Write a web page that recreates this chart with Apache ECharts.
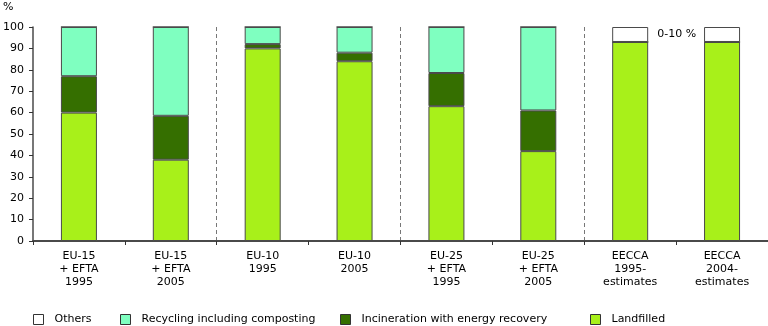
<!DOCTYPE html>
<html>
<head>
<meta charset="utf-8">
<script src="https://cdn.jsdelivr.net/npm/echarts@6/dist/echarts.min.js"></script>
<style>
  html, body { margin: 0; padding: 0; background: #fff; }
  #chart { width: 768px; height: 326px; }
</style>
</head>
<body>
<div id="chart"></div>
<script>
// Municipal waste treatment shares (%) by region and year
const categories = [
  'EU-15\n+ EFTA\n1995', 'EU-15\n+ EFTA\n2005',
  'EU-10\n1995', 'EU-10\n2005',
  'EU-25\n+ EFTA\n1995', 'EU-25\n+ EFTA\n2005',
  'EECCA\n1995-\nestimates', 'EECCA\n2004-\nestimates'
];
const landfilled   = [60, 38, 90, 84, 63, 42, 93, 93];
const incineration = [17, 20.5, 2, 4, 15.5, 19, 0, 0];
const recycling    = [23, 41.5, 8, 12, 21.5, 39, 0, 0];
const others       = [0, 0, 0, 0, 0, 0, 7, 7];
const othersNote   = ['', '', '', '', '', '', '0-10 %', ''];
const yTicks = [0, 10, 20, 30, 40, 50, 60, 70, 80, 90, 100];

const FONT = 'DejaVu Sans, Verdana, sans-serif';
const colors = {
  others: '#ffffff',
  recycling: '#7fffc0',
  incineration: '#356f00',
  landfilled: '#a8f01a'
};

const chart = echarts.init(document.getElementById('chart'), null, { renderer: 'canvas' });

function barSeries(name, data, color) {
  return {
    name: name,
    type: 'bar',
    stack: 'total',
    barWidth: 36,
    data: data,
    itemStyle: { color: color, borderColor: '#4a4a4a', borderWidth: 1 },
    emphasis: { disabled: true }
  };
}

function legendItem(name, left) {
  return {
    left: left,
    top: 309,
    itemWidth: 10,
    itemHeight: 10,
    itemGap: 0,
    data: [{ name: name, icon: 'rect', itemStyle: { borderColor: '#333', borderWidth: 1 } }],
    textStyle: { fontFamily: FONT, fontSize: 11, color: '#000', padding: [0, 0, 0, 6] },
    selectedMode: false
  };
}

const othersSeries = barSeries('Others', others.map((v, i) => ({
  value: v,
  label: othersNote[i] ? {
    show: true, position: 'right', distance: 9,
    formatter: othersNote[i], fontFamily: FONT, fontSize: 11, color: '#000'
  } : { show: false }
})), colors.others);

chart.setOption({
  animation: false,
  textStyle: { fontFamily: FONT },
  grid: { left: 32, right: 0, top: 27, bottom: 85, containLabel: false },
  xAxis: {
    type: 'category',
    data: categories,
    boundaryGap: true,
    axisLine: { lineStyle: { color: '#4a4a4a', width: 2 } },
    axisTick: { show: true, length: 4, lineStyle: { color: '#333' } },
    axisLabel: {
      interval: 0, margin: 9, fontFamily: FONT, fontSize: 11,
      color: '#000', lineHeight: 13
    },
    splitLine: {
      show: true,
      interval: function (i) { return i === 2 || i === 4 || i === 6; },
      lineStyle: { color: '#777', type: [4, 3], width: 1 }
    }
  },
  yAxis: {
    type: 'value',
    min: yTicks[0],
    max: yTicks[yTicks.length - 1],
    interval: yTicks[1] - yTicks[0],
    axisLine: { show: true, lineStyle: { color: '#4a4a4a', width: 1.5 } },
    axisTick: { show: true, length: 4, lineStyle: { color: '#333' } },
    axisLabel: { margin: 9, fontFamily: FONT, fontSize: 11, color: '#000' },
    splitLine: { show: false }
  },
  legend: [
    legendItem('Others', 28),
    legendItem('Recycling including composting', 115),
    legendItem('Incineration with energy recovery', 335),
    legendItem('Landfilled', 585)
  ],
  graphic: [{
    type: 'text', left: 3, top: 2,
    style: { text: '%', font: '11px ' + FONT, fill: '#000' }
  }],
  series: [
    barSeries('Landfilled', landfilled, colors.landfilled),
    barSeries('Incineration with energy recovery', incineration, colors.incineration),
    barSeries('Recycling including composting', recycling, colors.recycling),
    othersSeries
  ]
});
</script>
</body>
</html>
